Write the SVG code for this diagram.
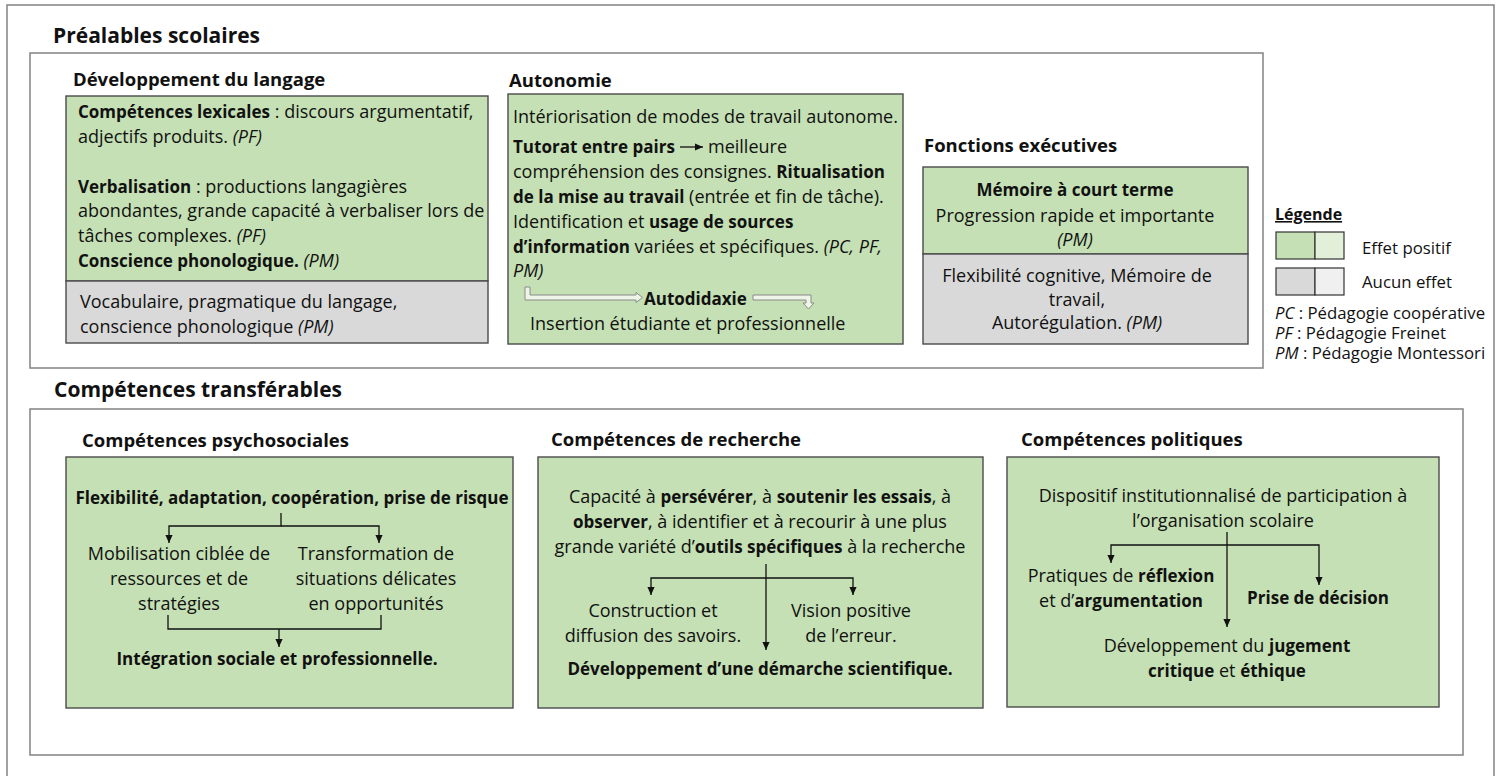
<svg xmlns="http://www.w3.org/2000/svg" width="1502" height="776" viewBox="0 0 1502 776">
<defs>
<style>
text{font-family:"Open Sans","Liberation Sans",sans-serif;fill:#111;font-size:18px}
.b{font-weight:bold;font-size:17px}
.i{font-style:italic}
.title{font-weight:bold;font-size:21px}
.sub{font-weight:bold;font-size:18.5px}
.m{text-anchor:middle}
.frame{fill:none;stroke:#8a8a8a;stroke-width:1.6}
.green{fill:#c5e0b4;stroke:#4a4a4a;stroke-width:1.4}
.gray{fill:#d9d9d9;stroke:#4a4a4a;stroke-width:1.4}
.con{fill:none;stroke:#111;stroke-width:1.3}
.hollow{fill:#eef5e8;stroke:#8a8a8a;stroke-width:1}
.leg{font-size:16.8px}
.legt{font-size:16px;font-weight:bold}
</style>
<marker id="ah" viewBox="0 0 10 10" refX="10" refY="5" markerWidth="8" markerHeight="8" markerUnits="userSpaceOnUse" orient="auto">
<path d="M0,0.5 L10,5 L0,9.5 z" fill="#111"/>
</marker>
</defs>
<rect width="1502" height="776" fill="#ffffff"/>
<rect class="frame" x="7" y="5" width="1487" height="780"/>

<g id="prealables">
<text class="title" x="53" y="43">Préalables scolaires</text>
<rect class="frame" x="30" y="53" width="1233" height="315"/>
</g>

<g id="developpement-langage">
<text class="sub" x="73" y="86">Développement du langage</text>
<rect class="green" x="66" y="96" width="422" height="185"/>
<rect class="gray" x="66" y="281" width="422" height="62"/>
<text x="78" y="118"><tspan class="b">Compétences lexicales</tspan> : discours argumentatif,</text>
<text x="78" y="143">adjectifs produits. <tspan class="i">(PF)</tspan></text>
<text x="78" y="193"><tspan class="b">Verbalisation</tspan> : productions langagières</text>
<text x="78" y="217">abondantes, grande capacité à verbaliser lors de</text>
<text x="78" y="242">tâches complexes. <tspan class="i">(PF)</tspan></text>
<text x="78" y="267"><tspan class="b">Conscience phonologique.</tspan> <tspan class="i">(PM)</tspan></text>
<text x="80" y="308">Vocabulaire, pragmatique du langage,</text>
<text x="80" y="333">conscience phonologique <tspan class="i">(PM)</tspan></text>
</g>

<g id="autonomie">
<text class="sub" x="509" y="87">Autonomie</text>
<rect class="green" x="508" y="94" width="395" height="250"/>
<text x="513" y="123">Intériorisation de modes de travail autonome.</text>
<text x="513" y="153"><tspan class="b">Tutorat entre pairs</tspan></text>
<text x="708" y="153">meilleure</text>
<text x="513" y="178">compréhension des consignes. <tspan class="b">Ritualisation</tspan></text>
<text x="513" y="203"><tspan class="b">de la mise au travail</tspan> (entrée et fin de tâche).</text>
<text x="513" y="228">Identification et <tspan class="b">usage de sources</tspan></text>
<text x="513" y="253"><tspan class="b">d’information</tspan> variées et spécifiques. <tspan class="i">(PC, PF,</tspan></text>
<text x="513" y="277" class="i">PM)</text>
<text x="644" y="305" class="b">Autodidaxie</text>
<text x="530" y="330">Insertion étudiante et professionnelle</text>
</g>

<g id="fonctions-executives">
<text class="sub" x="924" y="152">Fonctions exécutives</text>
<rect class="green" x="923" y="167" width="325" height="87"/>
<rect class="gray" x="923" y="254" width="325" height="90"/>
<text class="m b" x="1075" y="196">Mémoire à court terme</text>
<text class="m" x="1075" y="222">Progression rapide et importante</text>
<text class="m i" x="1075" y="246">(PM)</text>
<text class="m" x="1077" y="282">Flexibilité cognitive, Mémoire de</text>
<text class="m" x="1077" y="306">travail,</text>
<text class="m" x="1077" y="329">Autorégulation. <tspan class="i">(PM)</tspan></text>
</g>

<g id="legende">
<text class="legt" x="1275" y="220" text-decoration="underline">Légende</text>
<rect x="1276" y="232" width="39" height="27" fill="#c5e0b4" stroke="#333" stroke-width="1.2"/>
<rect x="1315" y="232" width="29" height="27" fill="#e2f0d9" stroke="#333" stroke-width="1.2"/>
<rect x="1276" y="268" width="39" height="27" fill="#d9d9d9" stroke="#333" stroke-width="1.2"/>
<rect x="1315" y="268" width="29" height="27" fill="#f0f0f0" stroke="#333" stroke-width="1.2"/>
<text class="leg" x="1362" y="254">Effet positif</text>
<text class="leg" x="1362" y="288">Aucun effet</text>
<text class="leg" x="1275" y="319"><tspan class="i">PC</tspan> : Pédagogie coopérative</text>
<text class="leg" x="1275" y="339"><tspan class="i">PF</tspan> : Pédagogie Freinet</text>
<text class="leg" x="1275" y="359"><tspan class="i">PM</tspan> : Pédagogie Montessori</text>
</g>

<g id="transferables">
<text class="title" x="54" y="397">Compétences transférables</text>
<rect class="frame" x="30" y="409" width="1433" height="346"/>
</g>

<g id="psychosociales">
<text class="sub" x="82" y="447">Compétences psychosociales</text>
<rect class="green" x="66" y="457" width="447" height="251"/>
<text class="m b" x="292" y="504">Flexibilité, adaptation, coopération, prise de risque</text>
<text class="m" x="179" y="560">Mobilisation ciblée de</text>
<text class="m" x="179" y="585">ressources et de</text>
<text class="m" x="179" y="610">stratégies</text>
<text class="m" x="376" y="560">Transformation de</text>
<text class="m" x="376" y="585">situations délicates</text>
<text class="m" x="376" y="610">en opportunités</text>
<text class="m b" x="277" y="665">Intégration sociale et professionnelle.</text>
</g>

<g id="recherche">
<text class="sub" x="551" y="446">Compétences de recherche</text>
<rect class="green" x="538" y="457" width="445" height="251"/>
<text class="m" x="760" y="503">Capacité à <tspan class="b">persévérer</tspan>, à <tspan class="b">soutenir les essais</tspan>, à</text>
<text class="m" x="760" y="528"><tspan class="b">observer</tspan>, à identifier et à recourir à une plus</text>
<text class="m" x="760" y="553">grande variété d’<tspan class="b">outils spécifiques</tspan> à la recherche</text>
<text class="m" x="653" y="617">Construction et</text>
<text class="m" x="653" y="642">diffusion des savoirs.</text>
<text class="m" x="851" y="617">Vision positive</text>
<text class="m" x="851" y="642">de l’erreur.</text>
<text class="m b" x="760" y="675">Développement d’une démarche scientifique.</text>
</g>

<g id="politiques">
<text class="sub" x="1021" y="446">Compétences politiques</text>
<rect class="green" x="1007" y="457" width="432" height="250"/>
<text class="m" x="1223" y="502">Dispositif institutionnalisé de participation à</text>
<text class="m" x="1223" y="527">l’organisation scolaire</text>
<text class="m" x="1121" y="582">Pratiques de <tspan class="b">réflexion</tspan></text>
<text class="m" x="1121" y="607">et d’<tspan class="b">argumentation</tspan></text>
<text class="m b" x="1318" y="604">Prise de décision</text>
<text class="m" x="1227" y="652">Développement du <tspan class="b">jugement</tspan></text>
<text class="m" x="1227" y="677"><tspan class="b">critique</tspan> et <tspan class="b">éthique</tspan></text>
</g>

<g id="connectors">
<path class="con" d="M680,147 H703" marker-end="url(#ah)"/>
<path class="hollow" d="M525,287 V300 H636 V302.5 L642.5,297.5 L636,292.5 V295 H530 V287 Z"/>
<path class="hollow" d="M753,295 H811 V303 H814 L808.5,309 L803,303 H806 V300 H753 Z"/>
<path class="con" d="M281,513 V526 H169 V543" marker-end="url(#ah)"/>
<path class="con" d="M281,526 H379 V543" marker-end="url(#ah)"/>
<path class="con" d="M168,615 V629 H381 V615"/>
<path class="con" d="M279,629 V647" marker-end="url(#ah)"/>
<path class="con" d="M766,564 V650" marker-end="url(#ah)"/>
<path class="con" d="M766,578 H651 V595" marker-end="url(#ah)"/>
<path class="con" d="M766,578 H853 V595" marker-end="url(#ah)"/>
<path class="con" d="M1227,532 V627" marker-end="url(#ah)"/>
<path class="con" d="M1227,545 H1111 V563" marker-end="url(#ah)"/>
<path class="con" d="M1227,545 H1319 V585" marker-end="url(#ah)"/>
</g>
</svg>
